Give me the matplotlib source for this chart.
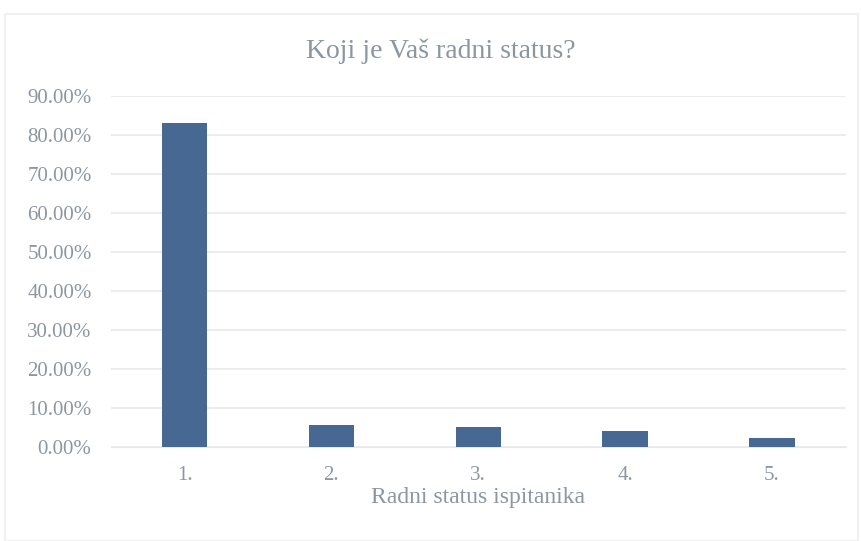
import matplotlib
matplotlib.use("Agg")
import matplotlib.pyplot as plt
from matplotlib.ticker import PercentFormatter, MultipleLocator

# data
categories = ['1.', '2.', '3.', '4.', '5.']
shares = [0.830, 0.056, 0.050, 0.040, 0.022]

title = 'Koji je Vaš radni status?'
xlabel = 'Radni status ispitanika'

txt = '#8c96a1'
bar_col = '#476892'

plt.rcParams['font.family'] = ['Liberation Serif', 'DejaVu Serif']

fig = plt.figure(figsize=(8.61, 5.41), dpi=100)
ax = fig.add_axes([0.129, 0.174, 0.853, 0.649])

x = range(len(categories))
ax.bar(x, shares, width=0.31, color=bar_col, zorder=3)

ax.set_ylim(0, 0.9)
ax.set_xlim(-0.5, len(categories) - 0.5)
ax.yaxis.set_major_locator(MultipleLocator(0.1))
ax.yaxis.set_major_formatter(PercentFormatter(1.0, decimals=2))
ax.set_xticks(list(x))
ax.set_xticklabels(categories)
ax.grid(axis='y', color='#e6e9ec', linewidth=1.2, zorder=0)
ax.tick_params(axis='both', length=0, labelsize=15, labelcolor=txt)
ax.tick_params(axis='y', pad=14)
ax.tick_params(axis='x', pad=14)
for s in ax.spines.values():
    s.set_visible(False)
ax.spines['bottom'].set_visible(True)
ax.spines['bottom'].set_color('#e6e9ec')

ax.set_xlabel(xlabel, fontsize=17, color=txt, labelpad=1)
fig.text(0.512, 0.905, title, fontsize=20, color=txt, ha='center', va='center')

# faint outer frame of the original chart area
fig.patches.append(plt.Rectangle((0.006, 0.0), 0.99, 0.975, transform=fig.transFigure,
                                 fill=False, edgecolor='#eef0f1', linewidth=1.5))

fig.savefig('out.png', dpi=100)
